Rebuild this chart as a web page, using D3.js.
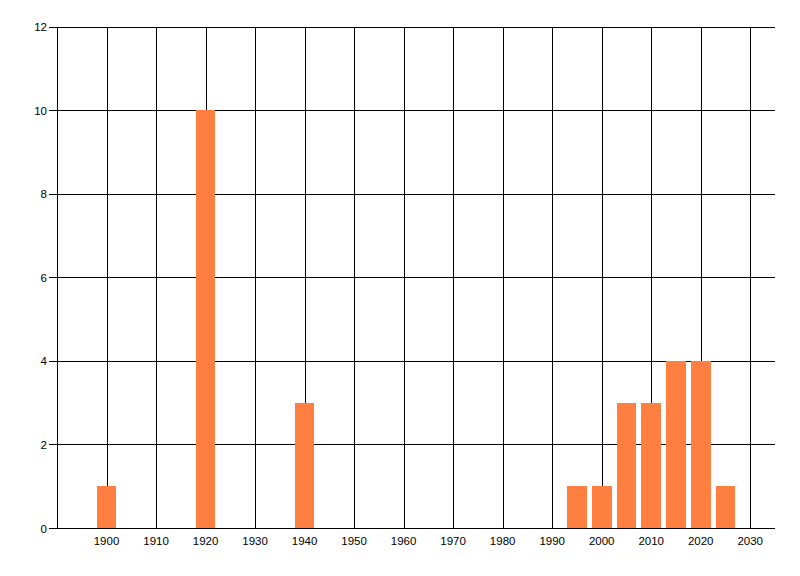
<!DOCTYPE html>
<html><head><meta charset="utf-8">
<script src="https://cdn.jsdelivr.net/npm/d3@7"></script>
<style>body{margin:0;background:#fff}svg{display:block}</style>
</head><body>
<script>
const years = [1900, 1920, 1940, 1995, 2000, 2005, 2010, 2015, 2020, 2025];
const counts = [1, 10, 3, 1, 1, 3, 3, 4, 4, 1];
const xTicks = [1900,1910,1920,1930,1940,1950,1960,1970,1980,1990,2000,2010,2020,2030];
const yTicks = [0,2,4,6,8,10,12];

(function () {
const W = 800, H = 576;
const pLeft = 57, pRight = 775, pTop = 26.5, pBottom = 528;
const svg = d3.select("body").append("svg").attr("width", W).attr("height", H);
const x = d3.scaleLinear().domain([1890, 2035]).range([pLeft, pRight]);
const y = d3.scaleLinear().domain([0, 12]).range([pBottom, pTop]);
const font = "'Liberation Sans', Arial, sans-serif";

// grid
const g = svg.append("g").attr("shape-rendering", "crispEdges");
g.selectAll(".vg").data(xTicks).join("line")
  .attr("x1", d => Math.round(x(d)) + 0.5).attr("x2", d => Math.round(x(d)) + 0.5)
  .attr("y1", pTop).attr("y2", pBottom).attr("stroke", "#000");
g.selectAll(".hg").data(yTicks).join("line")
  .attr("x1", pLeft - 8).attr("x2", pRight)
  .attr("y1", d => Math.round(y(d)) + 0.5).attr("y2", d => Math.round(y(d)) + 0.5)
  .attr("stroke", "#000");
g.append("line").attr("x1", pLeft + 0.5).attr("x2", pLeft + 0.5).attr("y1", pTop).attr("y2", pBottom).attr("stroke", "#000");

// bars
const data = years.map((yr, i) => ({yr, v: counts[i]}));
svg.append("g").selectAll("rect").data(data).join("rect")
  .attr("x", d => x(d.yr - 2)).attr("width", d => x(d.yr + 2) - x(d.yr - 2))
  .attr("y", d => y(d.v)).attr("height", d => y(0) - y(d.v))
  .attr("fill", "#FF7F40").attr("shape-rendering", "crispEdges");

// axis line on top
svg.append("line").attr("x1", pLeft - 8).attr("x2", pRight)
  .attr("y1", Math.round(y(0)) + 0.5).attr("y2", Math.round(y(0)) + 0.5)
  .attr("stroke", "#000").attr("shape-rendering", "crispEdges");

// labels
svg.append("g").selectAll("text").data(yTicks).join("text")
  .attr("x", 47).attr("y", d => y(d) + 4.5).attr("text-anchor", "end")
  .attr("font-family", font).attr("font-size", 11.5).attr("fill", "#000").text(d => d);
svg.append("g").selectAll("text").data(xTicks).join("text")
  .attr("x", d => x(d)).attr("y", 545).attr("text-anchor", "middle")
  .attr("font-family", font).attr("font-size", 11.5).attr("fill", "#000").text(d => d);
})();
</script>
</body></html>
